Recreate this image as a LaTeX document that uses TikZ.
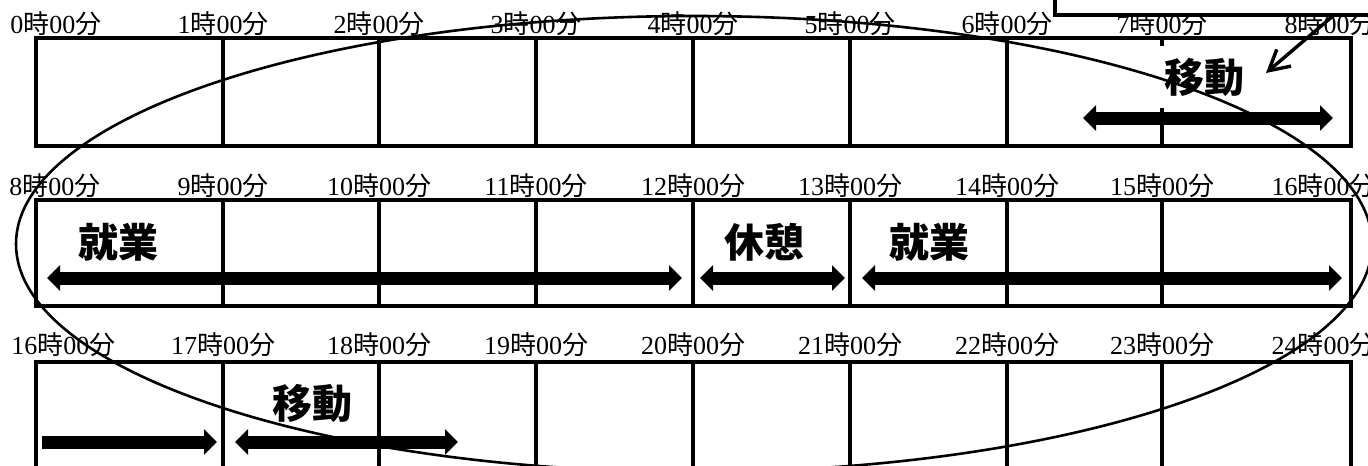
\documentclass[tikz,border=0pt]{standalone}
\usepackage{fontspec}
\setmainfont{Liberation Serif}
\newfontfamily\cjk{Noto Sans CJK JP}
\usetikzlibrary{arrows.meta}
\newcommand\hm[1]{#1{\cjk 時}00{\cjk 分}}
\begin{document}
\begin{tikzpicture}[x=0.5pt,y=-0.5pt,
  grid/.style={line width=1.7pt},
  tlabel/.style={font=\fontsize{13pt}{13pt}\selectfont, inner sep=0pt, anchor=base},
  act/.style={font=\cjk\fontsize{20pt}{20pt}\selectfont\bfseries, inner sep=0pt},
  dbar/.style={line width=6.5pt, {Triangle[length=6.5pt 0 0,width=12.5pt 0 0]}-{Triangle[length=6.5pt 0 0,width=12.5pt 0 0]}},
  sbar/.style={line width=6.5pt, -{Triangle[length=6.5pt 0 0,width=12.5pt 0 0]}},
  callbox/.style={line width=2pt, fill=white},
  callarrow/.style={line width=1.7pt, -{Straight Barb[length=10pt 0 0,width=11pt 0 0]}},
  loop/.style={line width=1.3pt}
]
\useasboundingbox (0,0) rectangle (1368,465);
% rows
\foreach \t/\b in {38/146, 200/306, 362/470}{
  \draw[grid] (36,\t) rectangle (1351,\b);
  \foreach \x in {223,379,536,693,850,1007,1162}{
    \draw[grid] (\x,\t) -- (\x,\b);
  }
}
% row 1 labels
\node[tlabel, anchor=base west] (l0) at (10,34) {\hm{0}};
\node[tlabel] (l1) at (223,34) {\hm{1}};
\node[tlabel] (l2) at (379,34) {\hm{2}};
\node[tlabel] (l3) at (536,34) {\hm{3}};
\node[tlabel] (l4) at (693,34) {\hm{4}};
\node[tlabel] (l5) at (850,34) {\hm{5}};
\node[tlabel] (l6) at (1007,34) {\hm{6}};
\node[tlabel] (l7) at (1162,34) {\hm{7}};
\node[tlabel, anchor=base east] (l8) at (1376,34) {\hm{8}};
% row 2 labels
\node[tlabel, anchor=base west] (m8) at (9,195) {\hm{8}};
\node[tlabel] (m9) at (223,195) {\hm{9}};
\node[tlabel] (m10) at (379,195) {\hm{10}};
\node[tlabel] (m11) at (536,195) {\hm{11}};
\node[tlabel] (m12) at (693,195) {\hm{12}};
\node[tlabel] (m13) at (850,195) {\hm{13}};
\node[tlabel] (m14) at (1007,195) {\hm{14}};
\node[tlabel] (m15) at (1162,195) {\hm{15}};
\node[tlabel, anchor=base east] (m16) at (1376,195) {\hm{16}};
% row 3 labels
\node[tlabel, anchor=base west] (n16) at (11,354) {\hm{16}};
\node[tlabel] (n17) at (223,354) {\hm{17}};
\node[tlabel] (n18) at (379,354) {\hm{18}};
\node[tlabel] (n19) at (536,354) {\hm{19}};
\node[tlabel] (n20) at (693,354) {\hm{20}};
\node[tlabel] (n21) at (850,354) {\hm{21}};
\node[tlabel] (n22) at (1007,354) {\hm{22}};
\node[tlabel] (n23) at (1162,354) {\hm{23}};
\node[tlabel, anchor=base east] (n24) at (1376,354) {\hm{24}};
% activities
\node[act, fill=white, minimum width=60pt, minimum height=31pt] (mv1) at (1204,77) {移動};
\coordinate (a1s) at (1083,118); \coordinate (a1e) at (1333,118);
\draw[dbar] (a1s) -- (a1e);
\node[act] (wk1) at (118,242) {就業};
\coordinate (a2s) at (47,278); \coordinate (a2e) at (682,278);
\draw[dbar] (a2s) -- (a2e);
\node[act] (rs) at (764,242) {休憩};
\coordinate (a3s) at (700,278); \coordinate (a3e) at (845,278);
\draw[dbar] (a3s) -- (a3e);
\node[act] (wk2) at (929,242) {就業};
\coordinate (a4s) at (862,278); \coordinate (a4e) at (1342,278);
\draw[dbar] (a4s) -- (a4e);
\node[act] (mv2) at (312,403) {移動};
\coordinate (a5s) at (42,442); \coordinate (a5e) at (217,442);
\draw[sbar] (a5s) -- (a5e);
\coordinate (a6s) at (235,442); \coordinate (a6e) at (458,442);
\draw[dbar] (a6s) -- (a6e);
% big ellipse
\draw[loop] (694,244) ellipse [x radius=339pt, y radius=114pt];
% call-out box
\draw[callbox] (1055,15) rectangle (1390,-20);
\coordinate (cs) at (1334,15);
\coordinate (ce) at (1266,73);
\draw[callarrow] (cs) -- (ce);
\end{tikzpicture}
\end{document}
